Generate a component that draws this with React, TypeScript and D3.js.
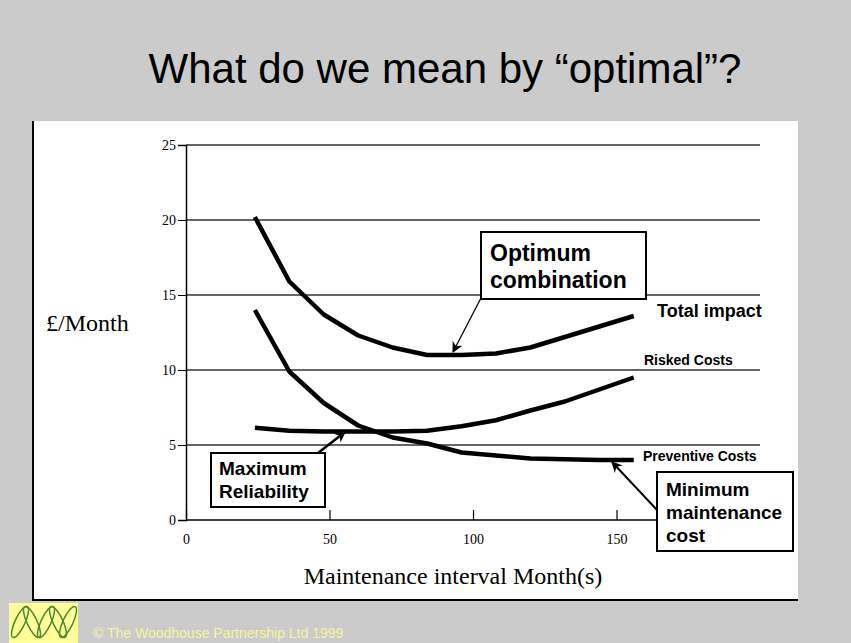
import { useEffect, useRef } from 'react';
import * as d3 from 'd3';

const intervals = [24, 36, 48, 60, 72, 84, 96, 108, 120, 132, 144, 156];
const totalImpact = [20.2, 15.9, 13.7, 12.3, 11.5, 11.0, 11.0, 11.1, 11.5, 12.2, 12.9, 13.6];
const riskedCosts = [6.15, 5.95, 5.9, 5.9, 5.9, 5.95, 6.25, 6.65, 7.3, 7.9, 8.7, 9.5];
const preventiveCosts = [14.0, 9.9, 7.8, 6.3, 5.5, 5.1, 4.5, 4.3, 4.1, 4.05, 4.0, 4.0];
const xTicks = [0, 50, 100, 150];
const yTicks = [0, 5, 10, 15, 20, 25];

const App = () => {
  const chartRef = useRef<SVGSVGElement>(null);

  useEffect(() => {
    drawChart();
  }, []);

  const drawChart = () => {
    const width = 851;
    const height = 643;

    const svg = d3.select(chartRef.current);
    svg.selectAll('*').remove();

    // slide background
    svg.append('rect').attr('width', width).attr('height', height).attr('fill', '#cbcbcb');
    svg.append('rect')
      .attr('x', 33).attr('y', 121).attr('width', 765).attr('height', 479)
      .attr('fill', '#fff');
    svg.append('line').attr('x1', 33).attr('x2', 33).attr('y1', 121).attr('y2', 601)
      .attr('stroke', '#000').attr('stroke-width', 2);
    svg.append('line').attr('x1', 32).attr('x2', 798).attr('y1', 600).attr('y2', 600)
      .attr('stroke', '#000').attr('stroke-width', 2);

    svg.append('text')
      .attr('x', 445).attr('y', 83)
      .attr('text-anchor', 'middle')
      .attr('font-family', 'Liberation Sans, Arial, sans-serif')
      .attr('font-size', 42)
      .attr('fill', '#000')
      .text('What do we mean by “optimal”?');

    const x = d3.scaleLinear().domain([0, 200]).range([186, 760]);
    const y = d3.scaleLinear().domain([0, 25]).range([520, 145]);

    // gridlines
    svg.selectAll('.grid')
      .data(yTicks)
      .enter().append('line')
      .attr('class', 'grid')
      .attr('x1', x(0)).attr('x2', x(200))
      .attr('y1', d => y(d)).attr('y2', d => y(d))
      .attr('stroke', d => d === 0 ? '#000' : '#333')
      .attr('stroke-width', 1.5);

    // y axis
    const yAxis = svg.append('g')
      .attr('transform', `translate(${x(0)},0)`)
      .call(d3.axisLeft(y).tickValues(yTicks).tickSize(8).tickPadding(2));
    yAxis.select('.domain').attr('stroke', '#000').attr('stroke-width', 1.5);
    yAxis.selectAll('.tick line').attr('stroke', '#000');
    yAxis.selectAll('text')
      .attr('font-family', 'Liberation Serif, Times New Roman, serif')
      .attr('font-size', 14)
      .attr('fill', '#000');

    // x axis ticks point inward
    const xAxis = svg.append('g')
      .attr('transform', `translate(0,${y(0)})`)
      .call(d3.axisBottom(x).tickValues(xTicks).tickSize(0).tickPadding(14));
    xAxis.select('.domain').remove();
    xAxis.selectAll('.tick')
      .append('line')
      .attr('y1', 0).attr('y2', -10)
      .attr('stroke', '#000').attr('stroke-width', 1.2);
    xAxis.selectAll('text')
      .attr('font-family', 'Liberation Serif, Times New Roman, serif')
      .attr('font-size', 14)
      .attr('fill', '#000');

    svg.append('text')
      .attr('x', 46).attr('y', 331)
      .attr('font-family', 'Liberation Serif, Times New Roman, serif')
      .attr('font-size', 24)
      .text('£/Month');

    svg.append('text')
      .attr('x', 453).attr('y', 584)
      .attr('text-anchor', 'middle')
      .attr('font-family', 'Liberation Serif, Times New Roman, serif')
      .attr('font-size', 24)
      .text('Maintenance interval Month(s)');

    // curves
    const line = d3.line<number>()
      .x((d, i) => x(intervals[i]))
      .y(d => y(d));

    [totalImpact, riskedCosts, preventiveCosts].forEach(series => {
      svg.append('path')
        .datum(series)
        .attr('d', line)
        .attr('fill', 'none')
        .attr('stroke', '#000')
        .attr('stroke-width', 4.5)
        .attr('stroke-linejoin', 'round');
    });

    const boldFont = 'Liberation Sans, Arial, sans-serif';
    const label = (tx: number, ty: number, size: number, t: string) =>
      svg.append('text')
        .attr('x', tx).attr('y', ty)
        .attr('font-family', boldFont)
        .attr('font-weight', 'bold')
        .attr('font-size', size)
        .attr('fill', '#000')
        .text(t);

    label(657, 317, 18, 'Total impact');
    label(644, 365, 14, 'Risked Costs');
    label(643, 461, 14, 'Preventive Costs');

    // arrow marker
    svg.append('defs').append('marker')
      .attr('id', 'arrow')
      .attr('viewBox', '0 0 10 10')
      .attr('refX', 9).attr('refY', 5)
      .attr('markerUnits', 'userSpaceOnUse')
      .attr('markerWidth', 13).attr('markerHeight', 11)
      .attr('orient', 'auto')
      .append('path')
      .attr('d', 'M0,0 L10,5 L0,10 L3,5 Z')
      .attr('fill', '#000');

    const arrow = (x1: number, y1: number, x2: number, y2: number, w: number) =>
      svg.append('line')
        .attr('x1', x1).attr('y1', y1).attr('x2', x2).attr('y2', y2)
        .attr('stroke', '#000').attr('stroke-width', w)
        .attr('marker-end', 'url(#arrow)');

    const box = (bx: number, by: number, bw: number, bh: number) =>
      svg.append('rect')
        .attr('x', bx).attr('y', by).attr('width', bw).attr('height', bh)
        .attr('fill', '#fff').attr('stroke', '#000').attr('stroke-width', 2);

    // Optimum combination
    arrow(481, 298, 453, 352, 1.3);
    box(481, 232, 165, 67);
    label(490, 261, 23, 'Optimum');
    label(490, 288, 23, 'combination');

    // Maximum Reliability
    arrow(318, 453, 345, 432, 2.5);
    box(211, 453, 114, 54);
    label(219, 475, 19, 'Maximum');
    label(219, 498, 19, 'Reliability');

    // Minimum maintenance cost
    arrow(657, 510, 612, 462, 2);
    box(657, 472, 136, 79);
    label(666, 496, 19, 'Minimum');
    label(666, 519, 19, 'maintenance');
    label(666, 542, 19, 'cost');

    // logo + footer
    const logo = svg.append('g');
    logo.append('rect').attr('x', 9).attr('y', 603).attr('width', 69).attr('height', 40).attr('fill', '#ffff99');
    [[20, 622, 25], [32, 622, -25], [46, 622, 25], [58, 622, -25], [68, 622, 25]].forEach(([cx, cy, r]) => {
      logo.append('ellipse')
        .attr('cx', cx).attr('cy', cy).attr('rx', 5).attr('ry', 17)
        .attr('transform', `rotate(${r},${cx},${cy})`)
        .attr('fill', 'none').attr('stroke', '#4f8a2f').attr('stroke-width', 1.5);
    });

    svg.append('text')
      .attr('x', 93).attr('y', 638)
      .attr('font-family', 'Liberation Sans, Arial, sans-serif')
      .attr('font-size', 14)
      .attr('fill', '#f3f39c')
      .text('© The Woodhouse Partnership Ltd 1999');
  };

  return (
    <svg
      ref={chartRef}
      width={851}
      height={643}
      style={{ position: 'absolute', left: 0, top: 0, display: 'block' }}
    />
  );
};

export default App;
